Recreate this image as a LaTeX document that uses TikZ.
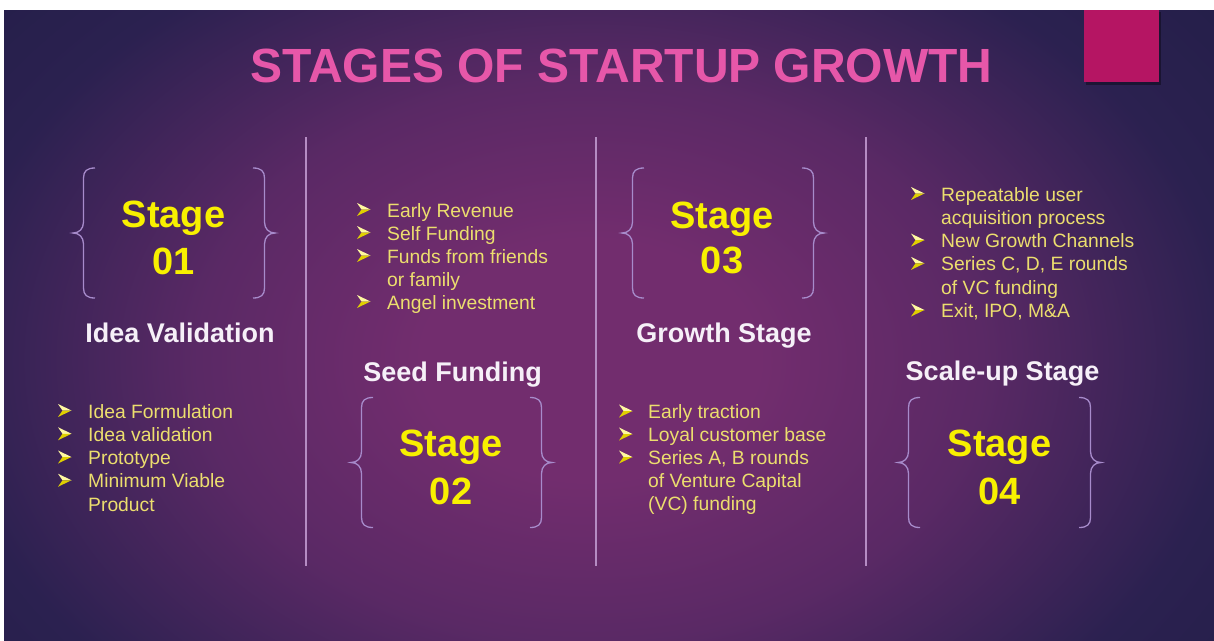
\documentclass[tikz,border=0pt]{standalone}
\usepackage{fontspec}
\setmainfont{Liberation Sans}
\definecolor{bgin}{HTML}{722D6E}
\definecolor{bgmid}{HTML}{5A2965}
\definecolor{bgout}{HTML}{2B2150}
\definecolor{bgcorner}{HTML}{231E48}
\definecolor{titlepink}{HTML}{E657A9}
\definecolor{sqmag}{HTML}{B51563}
\definecolor{divline}{HTML}{B58CC3}
\definecolor{bracecol}{HTML}{A78BCB}
\definecolor{stageyel}{HTML}{F8F000}
\definecolor{bultext}{HTML}{ECDE6E}
\definecolor{sublab}{HTML}{F6F0F8}
\definecolor{arrlight}{HTML}{FFF9A0}
\definecolor{arrdark}{HTML}{E0D000}
\pgfdeclareradialshading{bgshade}{\pgfpoint{0bp}{0bp}}{color(0bp)=(bgin); color(6bp)=(bgin); color(14bp)=(bgmid); color(23bp)=(bgout); color(30bp)=(bgcorner); color(50bp)=(bgcorner)}
\tikzset{
  divider/.style={draw=divline, line width=1.4},
  stg/.style={font=\fontsize{38}{45}\selectfont\bfseries, text=stageyel, anchor=base, inner sep=0},
  sl/.style={font=\fontsize{27}{32}\selectfont\bfseries, text=sublab, anchor=base, inner sep=0},
  bt/.style={anchor=base west, inner sep=0, text=bultext, font=\fontsize{19.3}{23}\selectfont},
  lbr/.pic={\draw[bracecol, line width=1.3] (22,-65) .. controls (14,-65) and (10.5,-62) .. (10.5,-55) -- (10.5,-11) .. controls (10.5,-4) and (6,0) .. (0,0) .. controls (6,0) and (10.5,4) .. (10.5,11) -- (10.5,55) .. controls (10.5,62) and (14,65) .. (22,65);},
  arr/.pic={\fill[arrlight] (0,-6.5) -- (13.5,0) -- (4.5,0) -- cycle;
            \fill[arrdark] (0,6.5) -- (13.5,0) -- (4.5,0) -- cycle;}
}
\begin{document}
\begin{tikzpicture}[x=1pt,y=-1pt]
\fill[white] (0,0) rectangle (1214,640);
\useasboundingbox (0,0) rectangle (1214,640);
\begin{scope}
\clip (4,10) rectangle (1214,640);
\shade[shading=bgshade] (-110,-140) rectangle (1290,860);
\end{scope}
% magenta square
\fill[black, opacity=0.35] (1086,12) rectangle (1161,84.5);
\node[fill=sqmag, minimum width=75, minimum height=72, inner sep=0, anchor=north west] (sq) at (1084,10) {};
% title
\node[font=\fontsize{48}{56}\selectfont\bfseries, text=titlepink, anchor=base, inner sep=0] (title) at (621.5,82) {STAGES OF STARTUP GROWTH};
% dividers
\coordinate (d1t) at (306,137); \coordinate (d1b) at (306,566);
\coordinate (d2t) at (596,137); \coordinate (d2b) at (596,566);
\coordinate (d3t) at (866,137); \coordinate (d3b) at (866,566);
\draw[divider] (d1t) -- (d1b);
\draw[divider] (d2t) -- (d2b);
\draw[divider] (d3t) -- (d3b);
% braces
\pic at (73,233) {lbr};   \pic[xscale=-1] at (275,233) {lbr};
\pic at (351,462.5) {lbr}; \pic[xscale=-1] at (552,462.5) {lbr};
\pic at (622,233) {lbr};  \pic[xscale=-1] at (824,233) {lbr};
\pic at (898,462.5) {lbr}; \pic[xscale=-1] at (1101,462.5) {lbr};
% stage labels
\node[stg] (st1) at (173.5,227) {Stage}; \node[stg] (n1) at (173.5,274) {01};
\node[stg] (st2) at (451,456) {Stage};   \node[stg] (n2) at (451,504) {02};
\node[stg] (st3) at (722,228) {Stage};   \node[stg] (n3) at (722,273) {03};
\node[stg] (st4) at (999.5,456) {Stage}; \node[stg] (n4) at (999.5,504) {04};
% sub labels
\node[sl] (iv) at (180,342) {Idea Validation};
\node[sl] (sf) at (452.5,381) {Seed Funding};
\node[sl] (gs) at (724,342) {Growth Stage};
\node[sl] (ss) at (1002.5,380) {Scale-up Stage};
% column 1 bullets
\node[bt] (a1) at (88,418) {Idea Formulation};
\node[bt] (a2) at (88,441.25) {Idea validation};
\node[bt] (a3) at (88,464.5) {Prototype};
\node[bt] (a4) at (88,487.75) {Minimum Viable};
\node[bt] (a5) at (88,511) {Product};
\pic at (58,410.5) {arr}; \pic at (58,433.75) {arr}; \pic at (58,457) {arr}; \pic at (58,480.25) {arr};
% column 2 bullets
\node[bt] (b1) at (387,217) {Early Revenue};
\node[bt] (b2) at (387,240) {Self Funding};
\node[bt] (b3) at (387,263) {Funds from friends};
\node[bt] (b4) at (387,286) {or family};
\node[bt] (b5) at (387,309) {Angel investment};
\pic at (357,209.5) {arr}; \pic at (357,232.5) {arr}; \pic at (357,255.5) {arr}; \pic at (357,301.5) {arr};
% column 3 bullets
\node[bt] (c1) at (648,418.5) {Early traction};
\node[bt] (c2) at (648,441.5) {Loyal customer base};
\node[bt] (c3) at (648,464.5) {Series A, B rounds};
\node[bt] (c4) at (648,487.5) {of Venture Capital};
\node[bt] (c5) at (648,510.5) {(VC) funding};
\pic at (619,411) {arr}; \pic at (619,434) {arr}; \pic at (619,457) {arr};
% column 4 bullets
\node[bt] (e1) at (941,201) {Repeatable user};
\node[bt] (e2) at (941,224.3) {acquisition process};
\node[bt] (e3) at (941,247.6) {New Growth Channels};
\node[bt] (e4) at (941,270.9) {Series C, D, E rounds};
\node[bt] (e5) at (941,294.2) {of VC funding};
\node[bt] (e6) at (941,317.5) {Exit, IPO, M\&A};
\pic at (911,193.5) {arr}; \pic at (911,240.1) {arr}; \pic at (911,263.4) {arr}; \pic at (911,310) {arr};
\end{tikzpicture}
\end{document}
